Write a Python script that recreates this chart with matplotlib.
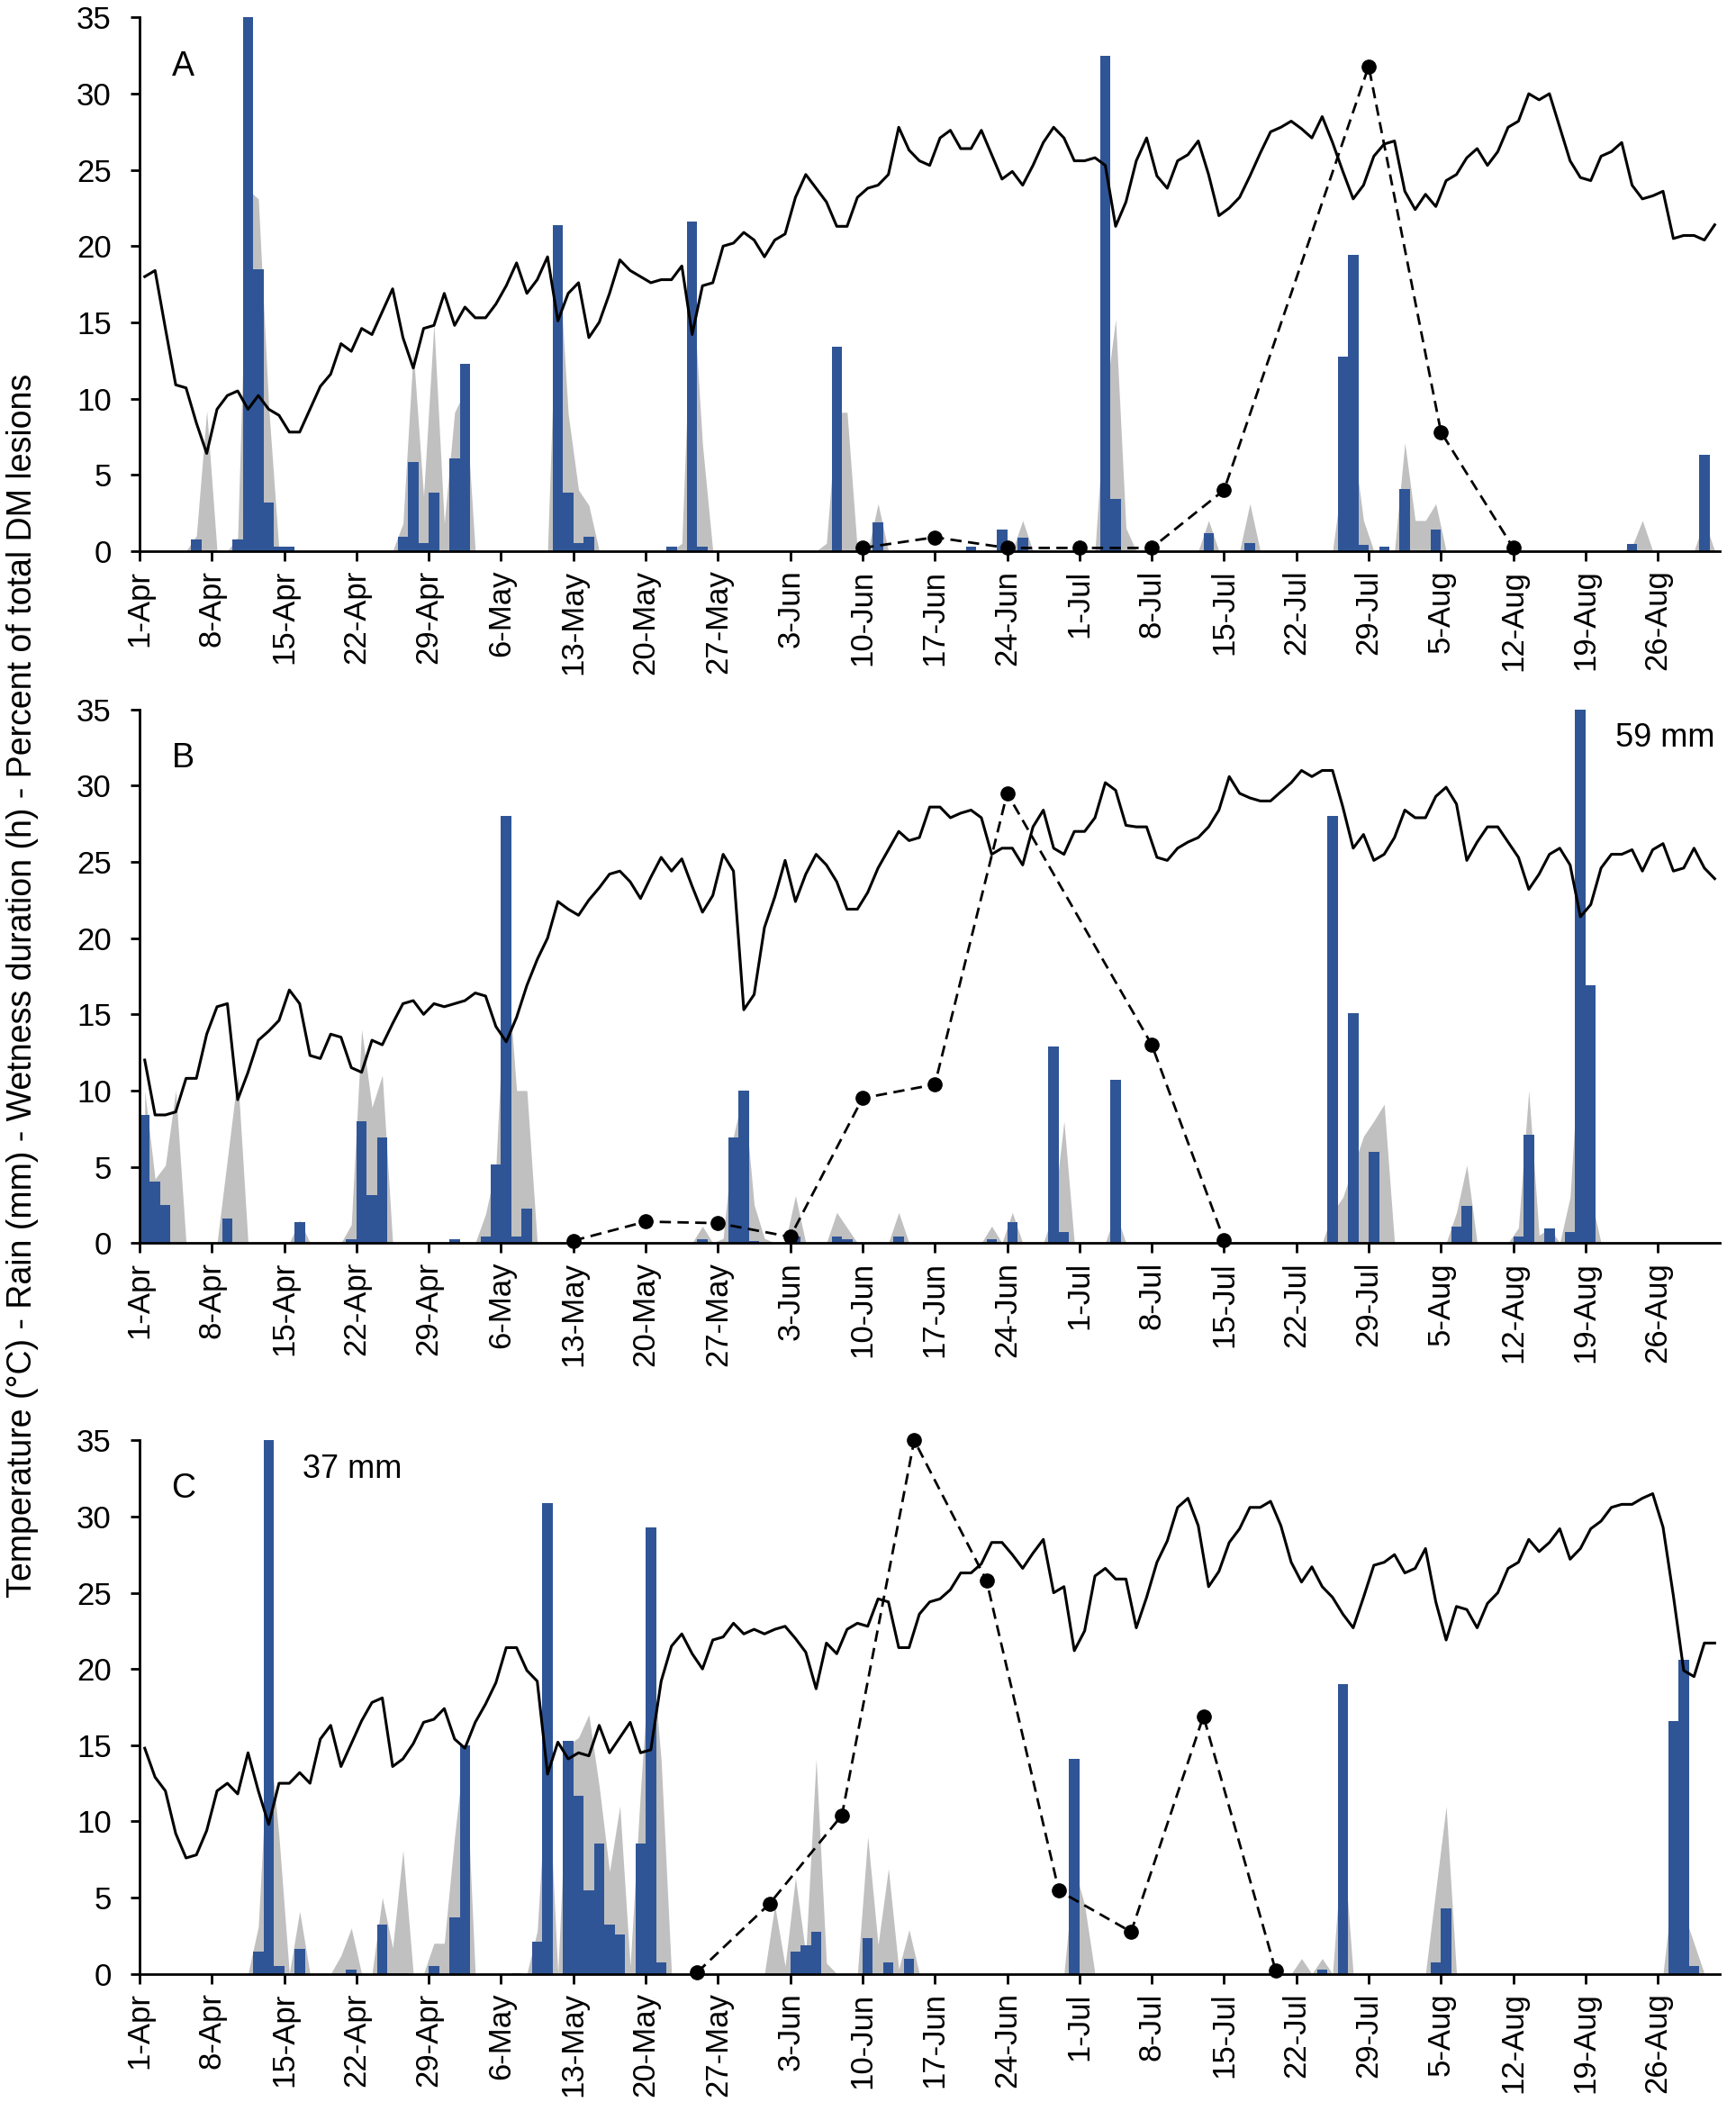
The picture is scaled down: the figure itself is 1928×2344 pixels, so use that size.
import numpy as np
import matplotlib
matplotlib.use("Agg")
import matplotlib.pyplot as plt

plt.rcParams['font.family'] = ['Liberation Sans', 'DejaVu Sans']

# days are counted from 1-Apr (day 0) to 31-Aug (day 152)
n_days = 153
tick_days = list(range(0, 148, 7))
tick_labels = ['1-Apr', '8-Apr', '15-Apr', '22-Apr', '29-Apr', '6-May', '13-May',
               '20-May', '27-May', '3-Jun', '10-Jun', '17-Jun', '24-Jun', '1-Jul',
               '8-Jul', '15-Jul', '22-Jul', '29-Jul', '5-Aug', '12-Aug', '19-Aug',
               '26-Aug']

# ---- Panel A ----
temp_a = [18.0, 18.4, 14.6, 10.9, 10.7, 8.4, 6.4, 9.3, 10.2, 10.5,
          9.3, 10.2, 9.3, 8.9, 7.8, 7.8, 9.3, 10.8, 11.6, 13.6,
          13.1, 14.6, 14.2, 15.7, 17.2, 14.0, 12.0, 14.6, 14.8, 16.9,
          14.8, 16.0, 15.3, 15.3, 16.2, 17.4, 18.9, 16.9, 17.8, 19.3,
          15.1, 16.9, 17.6, 14.0, 15.0, 16.9, 19.1, 18.4, 18.0, 17.6,
          17.8, 17.8, 18.7, 14.2, 17.4, 17.6, 20.0, 20.2, 20.9, 20.4,
          19.3, 20.4, 20.8, 23.2, 24.7, 23.8, 22.9, 21.3, 21.3, 23.2,
          23.8, 24.0, 24.7, 27.8, 26.3, 25.6, 25.3, 27.1, 27.6, 26.4,
          26.4, 27.6, 26.0, 24.4, 24.9, 24.0, 25.3, 26.8, 27.8, 27.1,
          25.6, 25.6, 25.8, 25.3, 21.3, 22.9, 25.6, 27.1, 24.6, 23.8,
          25.6, 26.0, 26.9, 24.7, 22.0, 22.5, 23.2, 24.6, 26.1, 27.5,
          27.8, 28.2, 27.7, 27.1, 28.5, 26.8, 24.9, 23.1, 24.0, 25.9,
          26.7, 26.9, 23.6, 22.4, 23.4, 22.6, 24.3, 24.7, 25.8, 26.4,
          25.3, 26.2, 27.8, 28.2, 30.0, 29.6, 30.0, 27.8, 25.6, 24.5,
          24.3, 25.9, 26.2, 26.8, 24.0, 23.1, 23.3, 23.6, 20.5, 20.7,
          20.7, 20.4, 21.4]
rain_a_days = [5, 9, 10, 11, 12, 13, 14, 25, 26, 27, 28, 30, 31, 40, 41, 42, 43,
               51, 53, 54, 67, 71, 80, 83, 85, 93, 94, 103, 107, 116, 117, 118,
               120, 122, 125, 144, 151]
rain_a_mm = [0.75, 0.75, 35, 18.5, 3.2, 0.3, 0.3, 0.95, 5.85, 0.5, 3.85, 6.1, 12.3,
             21.4, 3.8, 0.5, 0.95, 0.3, 21.6, 0.3, 13.4, 1.85, 0.3, 1.4, 0.9, 32.5,
             3.4, 1.15, 0.5, 12.75, 19.4, 0.4, 0.3, 4.05, 1.4, 0.45, 6.3]
wet_a_days = [5, 6, 9, 10, 11, 12, 25, 26, 27, 28, 29, 30, 31, 40, 41, 42, 43, 52,
              53, 54, 66, 67, 68, 71, 85, 93, 94, 95, 103, 107, 116, 117, 118, 122,
              123, 124, 125, 144, 145, 151]
wet_a_h = [1.0, 9.2, 0.9, 23.7, 23.1, 9.5, 1.8, 13.1, 3.6, 14.9, 1.8, 9.1, 10.5,
           20, 9, 4, 3, 0.5, 18, 7, 0.5, 9.1, 9.1, 3.1, 2.0, 10, 15.2, 1.5, 2.0,
           3.1, 5, 7.2, 2, 7.1, 2.0, 2.0, 3.1, 0.3, 2.0, 2.0]
dm_a_days = [70, 77, 84, 91, 98, 105, 119, 126, 133]
dm_a_pct = [0.2, 0.9, 0.2, 0.2, 0.2, 4.0, 31.8, 7.8, 0.2]

# ---- Panel B ----
temp_b = [12.0, 8.4, 8.4, 8.6, 10.8, 10.8, 13.7, 15.5, 15.7, 9.4,
          11.2, 13.3, 13.9, 14.6, 16.6, 15.7, 12.3, 12.1, 13.7, 13.5,
          11.5, 11.2, 13.3, 13.0, 14.4, 15.7, 15.9, 15.0, 15.7, 15.5,
          15.7, 15.9, 16.4, 16.2, 14.2, 13.2, 14.8, 16.9, 18.6, 20.0,
          22.4, 21.9, 21.5, 22.5, 23.3, 24.2, 24.4, 23.7, 22.6, 24.0,
          25.3, 24.4, 25.2, 23.4, 21.7, 22.8, 25.5, 24.4, 15.3, 16.3,
          20.7, 22.7, 25.1, 22.4, 24.2, 25.5, 24.8, 23.7, 21.9, 21.9,
          23.0, 24.6, 25.8, 27.0, 26.4, 26.6, 28.6, 28.6, 27.9, 28.2,
          28.4, 27.9, 25.5, 25.9, 25.9, 24.8, 27.3, 28.4, 25.9, 25.5,
          27.0, 27.0, 27.9, 30.2, 29.7, 27.4, 27.3, 27.3, 25.3, 25.1,
          25.9, 26.3, 26.6, 27.3, 28.4, 30.6, 29.5, 29.2, 29.0, 29.0,
          29.6, 30.2, 31.0, 30.6, 31.0, 31.0, 28.6, 25.9, 26.8, 25.1,
          25.5, 26.6, 28.4, 27.9, 27.9, 29.3, 29.9, 28.8, 25.1, 26.3,
          27.3, 27.3, 26.3, 25.3, 23.2, 24.2, 25.5, 25.9, 24.8, 21.4,
          22.2, 24.6, 25.5, 25.5, 25.8, 24.4, 25.8, 26.2, 24.4, 24.6,
          25.9, 24.6, 23.9]
rain_b_days = [0, 1, 2, 8, 15, 20, 21, 22, 23, 30, 33, 34, 35, 36, 37, 54, 57, 58,
               59, 63, 67, 68, 73, 82, 84, 88, 89, 94, 115, 117, 119, 127, 128, 133,
               134, 136, 138, 139, 140]
rain_b_mm = [8.4, 4.0, 2.5, 1.6, 1.35, 0.25, 8.0, 3.15, 6.9, 0.25, 0.45, 5.15, 28.0,
             0.45, 2.25, 0.25, 6.9, 10.0, 0.15, 0.4, 0.45, 0.25, 0.45, 0.25, 1.35,
             12.9, 0.7, 10.7, 28.0, 15.1, 6.0, 1.1, 2.45, 0.45, 7.1, 0.95, 0.7,
             59.0, 16.9]
wet_b_days = [0, 1, 2, 3, 8, 9, 15, 20, 21, 22, 23, 33, 34, 35, 36, 37, 54, 56, 57,
              58, 59, 60, 63, 67, 68, 73, 82, 84, 88, 89, 94, 115, 116, 117, 118,
              119, 120, 127, 128, 133, 134, 135, 136, 138, 139, 140]
wet_b_h = [10.0, 4.2, 5.1, 10.0, 5.5, 11.0, 1.5, 1.2, 14.0, 8.9, 11.0, 1.9, 5.0,
           19.0, 10.0, 10.0, 1.1, 0.3, 7.0, 10.0, 2.5, 0.3, 3.1, 2.0, 1.0, 2.0, 1.1,
           2.0, 2.0, 8.0, 2.0, 2.0, 3.0, 5.0, 7.0, 8.0, 9.1, 2.0, 5.1, 1.0, 10.0,
           0.5, 1.0, 3.0, 14.0, 3.0]
dm_b_days = [42, 49, 56, 63, 70, 77, 84, 98, 105]
dm_b_pct = [0.15, 1.4, 1.3, 0.4, 9.5, 10.4, 29.5, 13.0, 0.2]

# ---- Panel C ----
temp_c = [14.8, 12.9, 12.0, 9.2, 7.6, 7.8, 9.4, 12.0, 12.5, 11.8,
          14.5, 12.0, 9.8, 12.5, 12.5, 13.2, 12.5, 15.4, 16.3, 13.6,
          15.1, 16.6, 17.8, 18.1, 13.6, 14.1, 15.1, 16.5, 16.7, 17.4,
          15.4, 14.8, 16.5, 17.7, 19.1, 21.4, 21.4, 19.9, 19.2, 13.1,
          15.2, 14.1, 14.5, 14.3, 16.3, 14.5, 15.5, 16.5, 14.5, 14.7,
          19.2, 21.5, 22.3, 21.0, 20.0, 21.9, 22.1, 23.0, 22.3, 22.6,
          22.3, 22.6, 22.8, 22.0, 21.1, 18.7, 21.7, 21.0, 22.6, 23.0,
          22.8, 24.6, 24.4, 21.4, 21.4, 23.6, 24.4, 24.6, 25.2, 26.3,
          26.3, 26.9, 28.3, 28.3, 27.5, 26.6, 27.6, 28.5, 25.0, 25.4,
          21.2, 22.5, 26.1, 26.6, 25.9, 25.9, 22.7, 24.7, 27.0, 28.4,
          30.6, 31.2, 29.4, 25.4, 26.4, 28.3, 29.2, 30.6, 30.6, 31.0,
          29.4, 27.0, 25.7, 26.7, 25.4, 24.7, 23.6, 22.7, 24.7, 26.8,
          27.0, 27.5, 26.3, 26.6, 27.9, 24.4, 21.9, 24.1, 23.9, 22.7,
          24.3, 25.0, 26.6, 27.0, 28.5, 27.7, 28.3, 29.2, 27.2, 27.9,
          29.2, 29.7, 30.6, 30.8, 30.8, 31.2, 31.5, 29.3, 24.8, 19.9,
          19.5, 21.7, 21.7]
rain_c_days = [11, 12, 13, 15, 20, 23, 24, 25, 28, 30, 31, 36, 38, 39, 41, 42, 43,
               44, 45, 46, 48, 49, 50, 63, 64, 65, 70, 72, 74, 90, 114, 116, 125,
               126, 148, 149, 150]
rain_c_mm = [1.45, 37.0, 0.5, 1.65, 0.3, 3.25, 0.05, 0.05, 0.5, 3.7, 15.0, 0.05,
             2.1, 30.9, 15.3, 11.7, 5.45, 8.55, 3.2, 2.55, 8.55, 29.3, 0.75, 1.45,
             1.85, 2.75, 2.35, 0.75, 1.0, 14.1, 0.3, 19.0, 0.75, 4.3, 16.6, 20.6, 0.5]
wet_c_days = [11, 12, 13, 15, 19, 20, 23, 24, 25, 28, 29, 30, 31, 38, 39, 41, 42,
              43, 44, 45, 46, 47, 48, 49, 50, 61, 62, 63, 64, 65, 66, 70, 71, 72,
              73, 74, 90, 91, 112, 114, 116, 125, 126, 148, 149, 150]
wet_c_h = [3.1, 16.0, 9.0, 4.1, 1.2, 3.0, 5.0, 1.7, 8.1, 2.0, 2.0, 9.0, 15.0, 2.8,
           14.0, 15.0, 15.5, 17.0, 12.3, 6.7, 11.0, 0.5, 12.0, 22.0, 14.0, 4.5, 0.5,
           6.3, 1.3, 14.1, 0.7, 9.0, 1.9, 6.9, 0.3, 2.9, 7.0, 4.5, 1.0, 1.0, 9.0,
           5.5, 11.0, 6.0, 4.0, 2.0]
dm_c_days = [54, 61, 68, 75, 82, 89, 96, 103, 110]
dm_c_pct = [0.1, 4.6, 10.4, 35.0, 25.8, 5.45, 2.75, 16.9, 0.2]

BLUE = '#2F5597'
GREY = '#C0C0C0'
TICK_FS = 25


def draw_panel(ax, temp, rain_days, rain_mm, wet_days, wet_h, dm_days, dm_pct,
               letter, note=None, note_x=None):
    x = np.arange(n_days) + 0.5
    # wetness duration as a filled area (zero on days without wetness)
    wet = np.zeros(n_days)
    wet[wet_days] = wet_h
    ax.fill_between(x, 0, wet, color=GREY, linewidth=0, zorder=1)
    # daily rain as bars
    ax.bar(rain_days, rain_mm, width=1.0, align='edge', color=BLUE,
           linewidth=0, zorder=2)
    # mean temperature
    ax.plot(x, temp, color='black', linewidth=2.2, zorder=3)
    # percent of total DM lesions
    ax.plot(dm_days, dm_pct, color='black', linestyle='--', dashes=(4.5, 2.6),
            linewidth=2.0, marker='o', markersize=11, zorder=4, clip_on=False)

    ax.set_xlim(0, 153)
    ax.set_ylim(0, 35)
    ax.set_yticks(range(0, 36, 5))
    ax.set_xticks(tick_days)
    ax.set_xticklabels(tick_labels, rotation=90)
    for side in ['top', 'right']:
        ax.spines[side].set_visible(False)
    for side in ['left', 'bottom']:
        ax.spines[side].set_linewidth(2.0)
    ax.tick_params(axis='both', direction='out', width=2.0, labelsize=TICK_FS)
    ax.tick_params(axis='y', length=7.5, pad=15)
    ax.tick_params(axis='x', length=8, pad=7)
    ax.text(4.2, 31.8, letter, fontsize=27, ha='center', va='center')
    if note:
        ax.text(note_x, 33.1, note, fontsize=26, ha='center', va='center')


fig = plt.figure(figsize=(19.28, 23.44), dpi=100)
left, width, height = 0.0804, 0.9103, 0.2527
ax_a = fig.add_axes([left, 0.7390, width, height])
ax_b = fig.add_axes([left, 0.4112, width, height])
ax_c = fig.add_axes([left, 0.0650, width, height])

draw_panel(ax_a, temp_a, rain_a_days, rain_a_mm, wet_a_days, wet_a_h,
           dm_a_days, dm_a_pct, 'A')
draw_panel(ax_b, temp_b, rain_b_days, rain_b_mm, wet_b_days, wet_b_h,
           dm_b_days, dm_b_pct, 'B', note='59 mm', note_x=147.7)
draw_panel(ax_c, temp_c, rain_c_days, rain_c_mm, wet_c_days, wet_c_h,
           dm_c_days, dm_c_pct, 'C', note='37 mm', note_x=20.6)

fig.text(0.0132, 0.533,
         'Temperature (\u00b0C) - Rain (mm) - Wetness duration (h) - Percent of total DM lesions',
         rotation=90, ha='center', va='center', fontsize=27)

fig.savefig('out.png', dpi=100)
